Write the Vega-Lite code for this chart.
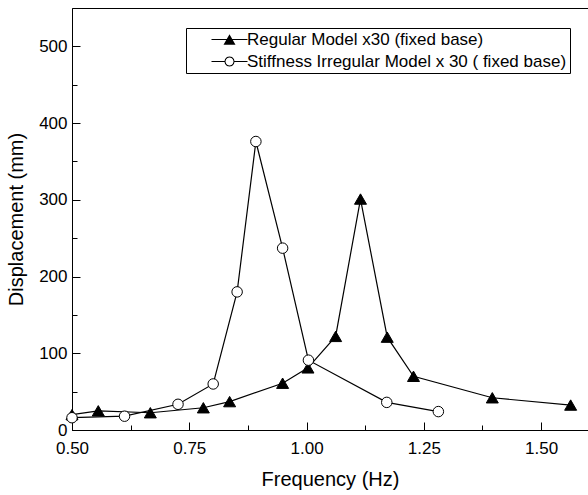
{
  "$schema": "https://vega.github.io/schema/vega-lite/v6.json",
  "width": 516,
  "height": 422,
  "autosize": {"type": "none"},
  "padding": {"left": 72, "top": 8, "right": 0, "bottom": 65},
  "background": "white",
  "config": {"view": {"stroke": "black", "strokeWidth": 1}, "font": "Liberation Sans"},
  "data": {"values": [
    {"series": "Regular Model x30 (fixed base)", "f": 0.5, "d": 20},
    {"series": "Regular Model x30 (fixed base)", "f": 0.556, "d": 25},
    {"series": "Regular Model x30 (fixed base)", "f": 0.667, "d": 22.5},
    {"series": "Regular Model x30 (fixed base)", "f": 0.78, "d": 29},
    {"series": "Regular Model x30 (fixed base)", "f": 0.836, "d": 37},
    {"series": "Regular Model x30 (fixed base)", "f": 0.949, "d": 61},
    {"series": "Regular Model x30 (fixed base)", "f": 1.003, "d": 81},
    {"series": "Regular Model x30 (fixed base)", "f": 1.062, "d": 122},
    {"series": "Regular Model x30 (fixed base)", "f": 1.115, "d": 301},
    {"series": "Regular Model x30 (fixed base)", "f": 1.172, "d": 121},
    {"series": "Regular Model x30 (fixed base)", "f": 1.228, "d": 70},
    {"series": "Regular Model x30 (fixed base)", "f": 1.396, "d": 42},
    {"series": "Regular Model x30 (fixed base)", "f": 1.563, "d": 32.5},
    {"series": "Stiffness Irregular Model x 30 ( fixed base)", "f": 0.5, "d": 16},
    {"series": "Stiffness Irregular Model x 30 ( fixed base)", "f": 0.612, "d": 18},
    {"series": "Stiffness Irregular Model x 30 ( fixed base)", "f": 0.726, "d": 33.5},
    {"series": "Stiffness Irregular Model x 30 ( fixed base)", "f": 0.801, "d": 60},
    {"series": "Stiffness Irregular Model x 30 ( fixed base)", "f": 0.852, "d": 180},
    {"series": "Stiffness Irregular Model x 30 ( fixed base)", "f": 0.892, "d": 376},
    {"series": "Stiffness Irregular Model x 30 ( fixed base)", "f": 0.949, "d": 237},
    {"series": "Stiffness Irregular Model x 30 ( fixed base)", "f": 1.004, "d": 91},
    {"series": "Stiffness Irregular Model x 30 ( fixed base)", "f": 1.171, "d": 36},
    {"series": "Stiffness Irregular Model x 30 ( fixed base)", "f": 1.281, "d": 24}
  ]},
  "encoding": {
    "x": {
      "field": "f", "type": "quantitative",
      "scale": {"domain": [0.5, 1.6], "nice": false, "zero": false},
      "axis": {
        "title": "Frequency (Hz)",
        "values": [0.5, 0.625, 0.75, 0.875, 1.0, 1.125, 1.25, 1.375, 1.5],
        "labelExpr": "(datum.value*4)%1 === 0 ? format(datum.value, '.2f') : ''",
        "tickSize": {"condition": {"test": "(datum.value*4)%1 === 0", "value": -8}, "value": -5},
        "grid": false, "domainColor": "black", "tickColor": "black", "labelColor": "black",
        "labelFontSize": 17, "labelPadding": 18, "labelFlush": false, "labelOverlap": false,
        "titleFontSize": 20, "titleFontWeight": "normal", "titleColor": "black", "titlePadding": 10
      }
    },
    "y": {
      "field": "d", "type": "quantitative",
      "scale": {"domain": [0, 550], "nice": false},
      "axis": {
        "title": "Displacement (mm)",
        "values": [0, 50, 100, 150, 200, 250, 300, 350, 400, 450, 500],
        "labelExpr": "datum.value % 100 === 0 ? datum.label : ''",
        "tickSize": {"condition": {"test": "datum.value % 100 === 0", "value": -8}, "value": -5},
        "grid": false, "domainColor": "black", "tickColor": "black", "labelColor": "black",
        "labelFontSize": 17, "labelPadding": 13, "labelFlush": false, "labelOverlap": false,
        "titleFontSize": 20, "titleFontWeight": "normal", "titleColor": "black", "titlePadding": 12
      }
    }
  },
  "layer": [
    {
      "mark": {"type": "line", "color": "black", "strokeWidth": 1.2},
      "encoding": {"detail": {"field": "series", "type": "nominal"}}
    },
    {
      "mark": {"type": "point", "filled": true, "stroke": "black", "strokeWidth": 1, "opacity": 1},
      "encoding": {
        "shape": {"condition": {"test": "datum.series === 'Regular Model x30 (fixed base)'", "value": "triangle-up"}, "value": "circle"},
        "fill": {"condition": {"test": "datum.series === 'Regular Model x30 (fixed base)'", "value": "black"}, "value": "white"},
        "size": {"condition": {"test": "datum.series === 'Regular Model x30 (fixed base)'", "value": 144}, "value": 110}
      }
    },
    {
      "transform": [{"filter": "false"}],
      "mark": {"type": "point", "filled": true, "stroke": "black", "strokeWidth": 1, "opacity": 1},
      "encoding": {
        "shape": {
          "field": "series", "type": "nominal",
          "scale": {
            "domain": ["Regular Model x30 (fixed base)", "Stiffness Irregular Model x 30 ( fixed base)"],
            "range": [
              "M-3,-0.09H3V0.09H-3ZM0,-0.866L1,0.866L-1,0.866Z",
              "M-3,-0.09H-0.8V0.09H-3ZM0.8,-0.09H3V0.09H0.8ZM0.85,0L0.736,0.425L0.425,0.736L0,0.85L-0.425,0.736L-0.736,0.425L-0.85,0L-0.736,-0.425L-0.425,-0.736L0,-0.85L0.425,-0.736L0.736,-0.425ZM0.67,0L0.58,-0.335L0.335,-0.58L0,-0.67L-0.335,-0.58L-0.58,-0.335L-0.67,0L-0.58,0.335L-0.335,0.58L0,0.67L0.335,0.58L0.58,0.335Z"
            ]
          },
          "legend": {
            "orient": "none", "legendX": 114, "legendY": 20, "title": null,
            "strokeColor": "black", "fillColor": "white", "padding": 3,
            "symbolSize": 144, "symbolOffset": 32, "labelOffset": 9,
            "labelFontSize": 17, "labelFont": "Liberation Sans", "labelColor": "black",
            "labelLimit": 400, "rowPadding": 4, "symbolStrokeWidth": 0,
            "symbolOpacity": 1
          }
        },
        "fill": {
          "field": "series", "type": "nominal",
          "scale": {
            "domain": ["Regular Model x30 (fixed base)", "Stiffness Irregular Model x 30 ( fixed base)"],
            "range": ["black", "black"]
          }
        }
      }
    }
  ]
}
